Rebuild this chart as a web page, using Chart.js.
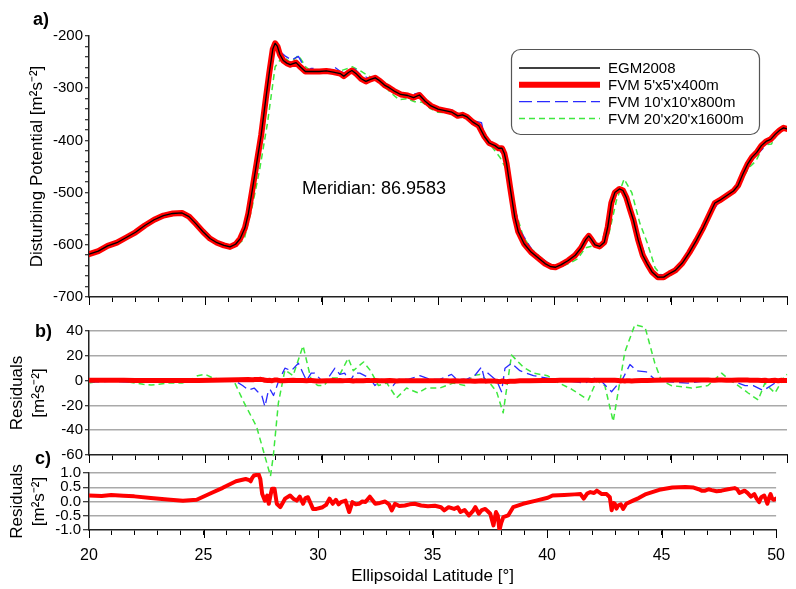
<!DOCTYPE html>
<html>
<head>
<meta charset="utf-8">
<script src="https://cdn.jsdelivr.net/npm/chart.js@4.4.1/dist/chart.umd.min.js"></script>
<style>
  html, body { margin: 0; padding: 0; background: #fff; }
  #wrap { position: relative; width: 796px; height: 589px; overflow: hidden; font-family: 'Liberation Sans', Arial, sans-serif; }
  canvas { position: absolute; left: 0; }
  .lbl { position: absolute; font-weight: bold; font-size: 18px; line-height: 20px; color: #000; }
  #meridian { position: absolute; left: 302px; top: 177px; font-size: 18px; line-height: 22px; color: #000; }
</style>
</head>
<body>
<div id="wrap">
  <canvas id="chartC" width="796" height="129" style="top:460px"></canvas>
  <canvas id="chartB" width="796" height="170" style="top:310px"></canvas>
  <canvas id="chartA" width="796" height="310" style="top:0px"></canvas>
  <div class="lbl" style="left:33px;top:9px">a)</div>
  <div class="lbl" style="left:35px;top:321px">b)</div>
  <div class="lbl" style="left:35px;top:448px">c)</div>
  <div id="meridian">Meridian: 86.9583</div>
</div>
<script>
// ---- panel a: disturbing potential along the meridian ----
const latA = [20.0,20.4,20.8,21.2,21.6,22.0,22.4,22.8,23.2,23.6,24.0,24.3,24.6,24.9,25.2,25.5,25.8,26.06,26.3,26.5,
  26.7,26.85,27.0,27.2,27.4,27.6,27.75,27.9,28.0,28.1,28.2,28.35,28.5,28.65,28.9,29.1,29.3,29.6,29.9,30.2,
  30.5,30.8,30.95,31.15,31.3,31.5,31.7,31.9,32.1,32.3,32.5,32.7,32.9,33.1,33.4,33.7,33.95,34.2,34.45,34.7,
  35.0,35.3,35.6,35.85,36.05,36.25,36.5,36.75,37.0,37.2,37.45,37.6,37.75,37.85,37.95,38.1,38.3,38.45,38.7,39.0,
  39.3,39.6,39.85,40.05,40.3,40.6,40.9,41.15,41.35,41.48,41.6,41.75,41.95,42.15,42.3,42.45,42.6,42.8,42.95,43.1,
  43.25,43.4,43.6,43.8,44.0,44.2,44.45,44.7,44.95,45.2,45.5,45.8,46.1,46.4,46.6,46.9,47.1,47.4,47.7,47.9,
  48.1,48.3,48.5,48.7,48.9,49.1,49.3,49.5,49.7,49.85,50.0];
const egmA = [-618,-612,-602,-596,-586,-576,-563,-552,-544,-540,-539,-546,-560,-575,-588,-596,-601,-604,-599,-588,
  -568,-540,-500,-445,-390,-320,-270,-225,-214,-220,-235,-247,-252,-255,-251,-260,-268,-268,-268,-267,
  -269,-272,-277,-270,-266,-273,-282,-287,-283,-280,-286,-294,-299,-305,-312,-314,-318,-313,-325,-334,
  -340,-343,-346,-353,-351,-355,-365,-372,-393,-405,-410,-415,-415,-425,-445,-490,-547,-575,-598,-614,
  -625,-636,-642,-643,-638,-630,-620,-606,-590,-583,-590,-600,-603,-595,-565,-520,-500,-493,-496,-510,
  -532,-553,-590,-620,-637,-652,-662,-662,-655,-649,-635,-615,-592,-567,-548,-520,-515,-506,-497,-486,
  -465,-446,-432,-423,-410,-402,-398,-388,-380,-376,-378];

const latA10 = [20,21,22,23,24,24.6,25.5,26.06,26.27,26.6,26.85,27.1,27.25,27.42,27.56,27.7,27.78,27.93,28.0,28.14,
  28.42,28.7,29.0,29.2,29.35,29.55,29.7,30.0,30.2,30.57,30.78,30.99,31.2,31.43,31.64,32.07,32.29,32.58,33.07,33.29,
  33.72,34.22,34.65,35.08,35.58,35.8,36.22,36.58,36.87,37.0,37.15,37.52,37.73,37.88,38.16,38.52,39.1,39.95,40.5,41.31,
  41.48,41.74,42.0,42.46,42.68,42.9,43.25,43.53,43.96,44.32,44.9,45.75,46.6,47.19,47.76,48.2,48.55,48.98,49.48,49.76,50];
const fvm10A = [-619,-599,-577,-549,-539,-558,-595,-604,-600,-582,-548,-478,-440,-396,-357,-296,-275,-234,-219,-227,
  -238,-246,-239,-255,-268,-262,-262,-268,-267,-260,-267,-271,-270,-263,-273,-282,-284,-288,-308,-310,
  -313,-309,-332,-340,-341,-351,-353,-363,-366,-392,-397,-412,-424,-420,-502,-572,-614,-642,-633,-594,
  -583,-597,-602,-527,-500,-494,-519,-572,-627,-657,-657,-620,-548,-511,-496,-462,-434,-415,-391,-379,-379];

const latA20 = [20.0,20.67,21.33,22.0,22.67,23.33,24.0,24.67,25.0,25.33,25.67,26.0,26.33,26.67,27.0,27.33,27.67,28.0,28.33,28.67,
  29.0,29.33,29.67,30.0,30.33,30.67,31.0,31.33,31.67,32.0,32.33,32.67,33.0,33.33,33.67,34.0,34.33,34.67,35.0,35.33,
  35.67,36.0,36.33,36.67,37.0,37.33,37.67,38.0,38.33,38.67,39.0,39.33,39.67,40.0,40.33,40.67,41.0,41.33,41.67,42.0,
  42.33,42.67,43.0,43.33,43.67,44.0,44.33,44.67,45.0,45.33,45.67,46.0,46.33,46.67,47.0,47.33,47.67,48.0,48.33,48.67,
  49.0,49.33,49.67,50.0];
const fvm20A = [-620,-605,-593,-578,-558,-545,-541,-560,-574,-590,-598,-603,-602,-589,-530,-457,-367,-259,-239,-251,
  -237,-260,-270,-272,-266,-269,-264,-259,-267,-276,-284,-295,-310,-322,-320,-326,-327,-339,-346,-347,
  -350,-356,-358,-365,-392,-413,-433,-460,-535,-585,-607,-621,-633,-643,-641,-635,-627,-606,-602,-603,
  -582,-515,-474,-500,-558,-597,-644,-662,-658,-647,-630,-606,-577,-548,-514,-506,-500,-483,-454,-439,
  -409,-407,-379,-373];

// ---- panel b: residuals of the 10' and 20' solutions ----
const latR10 = [20,20.5,21,21.5,22,22.5,23,23.5,24,24.3,24.6,25,25.5,26,26.27,26.6,26.85,27.1,27.25,27.42,
  27.56,27.7,27.78,27.93,28.14,28.42,28.7,29.0,29.2,29.35,29.55,29.7,30.0,30.2,30.57,30.78,30.99,31.2,31.43,31.64,
  32.07,32.29,32.58,33.07,33.29,33.72,34.22,34.65,35.08,35.58,35.8,36.22,36.58,36.87,37.0,37.15,37.52,37.73,37.88,38.16,
  38.52,39.1,39.95,40.5,41.31,41.74,42.0,42.46,42.68,42.9,43.25,43.53,43.96,44.32,44.9,45.75,46.6,47.19,47.76,48.2,
  48.55,48.98,49.48,49.76,50];
const res10 = [-1,-1,-0.5,-1,-1.5,-1,-1,-0.5,0,0,1.5,0.5,0.5,0.5,0,-4,-7.6,-6,-9,-11.6,
  -21,-9,-7,-12,-1,10,8,14,6,0,6,6,0,0,10,5,6,-1,6,6,
  2,-4,1,-4,1,1,4,1,1,5,1,1,4,11,1,6,0,-9,10,14,
  8,4,1,0,-2,2,0,-9,-4,0,13,8,7,1,-1,-2,0,1,-1,-4,
  -4,-8,-2,0,-1];

const latR20 = [20,20.33,20.67,21,21.33,21.67,22,22.33,22.67,23,23.33,23.67,24,24.33,24.67,25,25.33,25.67,26,26.27,
  26.67,27.2,27.56,27.8,27.92,28.14,28.42,28.77,29.2,29.57,29.85,30.1,30.36,30.7,31.14,31.36,31.8,32.1,32.44,32.8,
  33.22,33.65,34.15,34.5,35.08,35.65,36.16,36.5,36.8,37.23,37.52,37.8,38.16,38.66,39.1,39.7,40.1,40.75,41.46,41.82,
  42.17,42.53,43.03,43.46,43.9,44.32,44.6,45.03,45.9,46.6,46.9,47.19,47.5,47.9,48.33,48.76,49.05,49.48,49.91,50];
const res20 = [-2,-1,0,0,-0.5,-1,-2,-3,-3.5,-3,-2,-2,-2,0,4,5,2,1,0,-2,
  -18,-37,-61,-77,-61,-18,8.5,4,28,-1,-4,-4,2,2,18,8,15,8,-4,-2,
  -14,-6,-10,-6,-6,-2,-4,4,5,-2,-9,-26,20.6,11,6,4,-1,-7,-15.6,0,
  -4,-33,23,45,43,14,0,-4,-6,-4,1,6,1,-4,-10,-15.6,-2,-10,4,5];

// ---- panel c: residuals of the 5' solution ----
const latR5 = [20,20.55,20.97,21.5,21.98,22.7,23.55,24.1,24.7,25.27,25.84,26.42,26.84,27.0,27.06,27.12,27.2,27.3,27.39,27.48,
  27.56,27.68,27.78,27.85,27.92,27.99,28.1,28.2,28.35,28.56,28.78,28.92,29.07,29.2,29.35,29.45,29.56,29.78,29.93,30.2,
  30.35,30.5,30.64,30.78,30.9,31.0,31.2,31.36,31.5,31.65,31.79,31.93,32.07,32.26,32.5,32.7,32.93,33.1,33.22,33.36,
  33.55,33.79,34.0,34.22,34.5,34.8,35.1,35.37,35.51,35.7,35.94,36.1,36.22,36.4,36.59,36.75,36.87,37.02,37.15,37.3,
  37.42,37.52,37.66,37.77,37.85,37.92,38.0,38.09,38.3,38.52,38.95,39.52,40.03,40.24,40.75,41.2,41.46,41.6,41.75,41.89,
  42.05,42.17,42.39,42.6,42.74,42.82,42.9,42.96,43.03,43.1,43.22,43.32,43.46,43.75,44.0,44.32,44.9,45.47,46.04,46.4,
  46.62,46.75,46.9,47.05,47.19,47.4,47.62,47.9,48.19,48.3,48.4,48.48,48.62,48.75,48.9,49.05,49.15,49.26,49.35,49.48,
  49.55,49.62,49.7,49.76,49.83,49.9,50];
const res5 = [0.21,0.19,0.23,0.2,0.18,0.12,0.06,0.03,0.06,0.27,0.48,0.71,0.79,0.75,0.71,0.82,0.91,0.93,0.99,0.79,
  0.27,0.03,0.21,-0.08,0.2,0.45,0.45,-0.08,-0.2,0.1,0.21,0.1,0.03,0.17,-0.08,0.12,0.15,-0.26,-0.26,-0.2,
  -0.12,0.1,-0.08,0.06,-0.1,-0.02,0.03,-0.37,-0.02,-0.1,-0.08,0.0,-0.02,0.17,-0.08,-0.05,0,-0.1,-0.31,-0.08,
  -0.16,-0.14,-0.1,-0.08,-0.14,-0.17,-0.15,-0.2,-0.31,-0.2,-0.26,-0.2,-0.37,-0.3,-0.49,-0.35,-0.2,-0.43,-0.3,-0.26,
  -0.35,-0.43,-0.84,-0.37,-0.5,-1.01,-0.75,-0.55,-0.49,-0.2,-0.08,0.03,0.13,0.21,0.23,0.25,0.26,0.1,0.28,0.33,
  0.3,0.38,0.26,0.26,0.15,-0.31,-0.05,-0.08,-0.25,-0.14,-0.1,-0.26,-0.08,0.03,0.12,0.26,0.41,0.49,0.51,0.49,
  0.43,0.38,0.38,0.43,0.4,0.36,0.38,0.43,0.47,0.43,0.3,0.33,0.38,0.3,0.17,0.26,0.1,-0.02,0.15,0.21,
  0.08,-0.08,0.15,0.26,0.1,0.06,0.1];

const potTicks = { min: -700, max: -200, step: 20 };
const resBTicks = { min: -60, max: 40, step: 20 };
const resCTicks = { min: -1, max: 1, step: 0.5 };

const pts = (xs, ys) => xs.map((x, i) => ({ x: x, y: ys[i] }));

Chart.defaults.font.family = "'Liberation Sans', Arial, sans-serif";
Chart.defaults.font.size = 15;
Chart.defaults.color = '#000';

const RED = '#ff0000', BLUE = '#2a2aff', GREEN = '#3ee83e', GRID = '#a9a9a9';

// longer tick marks on every 5 degrees
const majorTicks = {
  id: 'majorTicks',
  afterDraw(chart) {
    const xs = chart.scales.x, ctx = chart.ctx, b = chart.chartArea.bottom;
    ctx.save();
    ctx.strokeStyle = '#000';
    ctx.lineWidth = 1;
    xs.ticks.forEach(t => {
      if (t.value % 5 === 0) {
        const p = Math.round(xs.getPixelForValue(t.value)) + 0.5;
        ctx.beginPath(); ctx.moveTo(p, b); ctx.lineTo(p, b + 8); ctx.stroke();
      }
    });
    ctx.restore();
  }
};

// framed legend of panel a
const boxLegend = {
  id: 'boxLegend',
  afterDraw(chart) {
    const ctx = chart.ctx;
    ctx.save();
    ctx.beginPath();
    ctx.roundRect(511.5, 49.5, 248, 85, 9);
    ctx.fillStyle = '#fff';
    ctx.fill();
    ctx.lineWidth = 1.2;
    ctx.strokeStyle = '#555';
    ctx.stroke();
    chart.data.datasets.forEach((ds, i) => {
      const y = 68 + i * 16.8;
      ctx.beginPath();
      ctx.setLineDash(ds.borderDash || []);
      ctx.lineWidth = ds.borderWidth;
      ctx.strokeStyle = ds.borderColor;
      ctx.moveTo(519, y); ctx.lineTo(600, y);
      ctx.stroke();
      ctx.setLineDash([]);
      ctx.fillStyle = '#000';
      ctx.font = "15px 'Liberation Sans', Arial, sans-serif";
      ctx.textBaseline = 'middle';
      ctx.fillText(ds.label, 608, y + 1);
    });
    ctx.restore();
  }
};

function xAxis(withLabels, height) {
  return {
    type: 'linear', min: 20, max: 50,
    border: { color: '#222', width: 1.5 },
    grid: { drawOnChartArea: false, tickLength: 5, tickColor: '#000', tickWidth: 1 },
    ticks: {
      display: withLabels, stepSize: 1, autoSkip: false, maxRotation: 0, padding: 11,
      font: { size: 16 }, color: '#000',
      callback: v => (v % 5 === 0 ? v : '')
    },
    title: {
      display: withLabels, text: 'Ellipsoidal Latitude [°]', color: '#000',
      font: { size: 17 }, padding: { top: 0, bottom: 2 }
    },
    afterFit: s => { s.height = height; }
  };
}

function yAxis(range, title, titlePad, opts) {
  return {
    type: 'linear', min: range.min, max: range.max,
    border: { color: '#222', width: 1.5 },
    grid: {
      drawOnChartArea: opts.grid, tickLength: opts.tick, tickColor: '#000', tickWidth: 1,
      lineWidth: 1.5,
      color: c => (c.tick && c.tick.value === range.min ? 'rgba(0,0,0,0)' : GRID)
    },
    ticks: { stepSize: range.step, autoSkip: false, padding: 2, color: '#000', font: { size: 15 }, callback: opts.fmt },
    title: { display: true, text: title, color: '#000', font: { size: 17, lineHeight: 1.25 }, padding: { top: titlePad, bottom: 0 } },
    afterFit: s => { s.width = 89; }
  };
}

const base = { responsive: false, animation: false, events: [] };
const lineEl = { tension: 0, borderJoinStyle: 'round', borderCapStyle: 'round' };

new Chart(document.getElementById('chartA'), {
  type: 'line',
  data: {
    datasets: [
      { label: 'EGM2008', data: pts(latA, egmA), borderColor: '#000', borderWidth: 1.3, order: 0 },
      { label: "FVM 5'x5'x400m", data: pts(latA, egmA), borderColor: RED, borderWidth: 6, order: 1 },
      { label: "FVM 10'x10'x800m", data: pts(latA10, fvm10A), borderColor: BLUE, borderWidth: 1.3, borderDash: [13, 5], borderCapStyle: 'butt', order: 2 },
      { label: "FVM 20'x20'x1600m", data: pts(latA20, fvm20A), borderColor: GREEN, borderWidth: 1.5, borderDash: [6, 4], borderCapStyle: 'butt', order: 3 }
    ]
  },
  options: Object.assign({}, base, {
    layout: { padding: { top: 36, right: 9, left: 0, bottom: 0 } },
    elements: { point: { radius: 0 }, line: lineEl },
    plugins: { legend: { display: false }, tooltip: { enabled: false } },
    scales: {
      x: xAxis(false, 13),
      y: yAxis(potTicks, 'Disturbing Potential [m²s⁻²]', 27,
        { grid: false, tick: 4, fmt: v => (v % 100 === 0 ? v : '') })
    }
  }),
  plugins: [majorTicks, boxLegend]
});

new Chart(document.getElementById('chartB'), {
  type: 'line',
  data: {
    datasets: [
      { label: "FVM 5'x5'x400m", data: pts(latR5, res5), borderColor: RED, borderWidth: 5, order: 0 },
      { label: "FVM 10'x10'x800m", data: pts(latR10, res10), borderColor: BLUE, borderWidth: 1.3, borderDash: [10, 5], borderCapStyle: 'butt', order: 1 },
      { label: "FVM 20'x20'x1600m", data: pts(latR20, res20), borderColor: GREEN, borderWidth: 1.5, borderDash: [6, 4], borderCapStyle: 'butt', order: 2, clip: false }
    ]
  },
  options: Object.assign({}, base, {
    layout: { padding: { top: 21, right: 9, left: 0, bottom: 0 } },
    elements: { point: { radius: 0 }, line: lineEl },
    plugins: { legend: { display: false }, tooltip: { enabled: false } },
    scales: {
      x: xAxis(false, 25),
      y: yAxis(resBTicks, ['Residuals', '[m²s⁻²]'], 7, { grid: true, tick: 4, fmt: v => v })
    }
  }),
  plugins: [majorTicks]
});

new Chart(document.getElementById('chartC'), {
  type: 'line',
  data: {
    datasets: [
      { label: "FVM 5'x5'x400m", data: pts(latR5, res5), borderColor: RED, borderWidth: 4 }
    ]
  },
  options: Object.assign({}, base, {
    layout: { padding: { top: 13, right: 9, left: 0, bottom: 0 } },
    elements: { point: { radius: 0 }, line: lineEl },
    plugins: { legend: { display: false }, tooltip: { enabled: false } },
    scales: {
      x: xAxis(true, 59),
      y: yAxis(resCTicks, ['Residuals', '[m²s⁻²]'], 7, { grid: true, tick: 6, fmt: v => v.toFixed(1) })
    }
  }),
  plugins: [majorTicks]
});
</script>
</body>
</html>
